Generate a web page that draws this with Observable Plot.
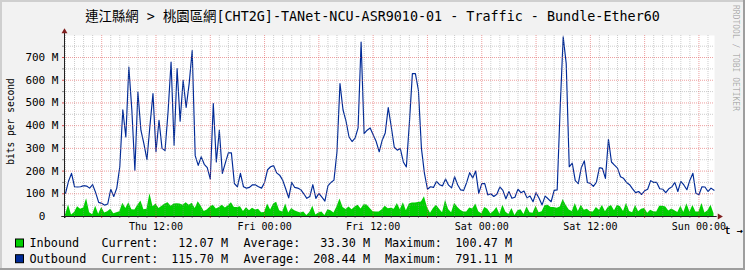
<!DOCTYPE html>
<html><head><meta charset="utf-8">
<script src="https://cdn.jsdelivr.net/npm/d3@7"></script>
<script src="https://cdn.jsdelivr.net/npm/@observablehq/plot@0.6"></script>
<style>
html,body{margin:0;padding:0;background:#f2f2f2;}
#chart{position:relative;width:745px;height:270px;background:#f2f2f2;overflow:hidden;
  box-shadow: inset -2px -2px 0 #9e9e9e, inset 2px 2px 0 #cfcfcf;}
#chart svg{position:absolute;left:0;top:0;}
</style>
</head><body>
<div id="chart"></div>
<script>
// ---- data (values in M bits/s), 20-minute samples starting Thu 02:00 ----
const startHour = 2;        // hours since Thu 00:00
const stepHours = 1 / 3;    // 20 minutes
const outbound = [
102,155,190,131,130,131,136,134,125,140,
105,62,58,50,55,120,88,125,219,470,
350,658,468,204,548,380,320,250,400,541,
285,424,300,290,460,680,314,651,420,600,
480,585,731,268,225,263,230,215,165,497,
240,380,190,236,280,280,145,131,190,131,
125,128,140,139,131,125,150,206,219,224,
192,182,160,122,82,150,128,125,118,100,
80,88,140,80,102,85,68,135,150,160,
285,585,470,420,350,330,345,390,768,365,
380,390,360,330,285,336,368,480,395,305,
292,299,240,218,410,629,629,556,300,190,
120,131,128,155,140,135,165,138,126,175,
140,117,115,150,193,170,200,102,145,145,
95,100,88,98,130,115,78,110,80,85,
120,105,112,82,90,65,105,80,51,90,
78,65,115,117,480,791.11,673,219,235,158,
145,215,245,150,146,133,150,215,212,168,
340,240,226,213,175,168,150,140,122,105,
110,97,113,120,158,150,150,122,120,105,
122,130,150,110,155,139,118,160,190,102,
96,131,130,110,125,115.70
];
const inbound = [
7,51,7,18,43,32,37,78,16,8,
45,10,40,15,21,32,12,17,21,58,
35,60,30,29,50,68,30,32,100.47,43,
55,35,45,55,60,45,55,56,55,50,
60,50,58,35,65,45,22,29,42,50,
33,40,50,37,47,60,40,40,43,22,
38,25,36,29,32,16,18,55,29,55,
63,25,20,55,15,35,25,20,15,20,
4,18,45,7,15,20,4,30,25,15,
42,77,40,31,42,30,42,50,33,52,
51,35,21,20,20,30,45,34,36,32,
57,30,60,25,55,59,59,62,64,87,
40,14,35,50,32,17,72,31,16,58,
41,28,20,20,37,33,55,21,12,40,
32,12,22,40,10,50,19,9,35,4,
25,30,9,42,16,14,45,17,21,48,
50,40,40,36,42,75,48,29,22,57,
22,50,27,32,21,20,40,28,48,21,
41,48,25,50,43,22,58,22,16,48,
21,32,35,14,28,21,20,45,45,42,
24,33,25,18,45,18,56,20,48,20,
20,57,15,25,50,12.07
];
const xTickHours  = [12, 24, 36, 48, 60, 72];
const xTickLabels = ["Thu 12:00", "Fri 00:00", "Fri 12:00", "Sat 00:00", "Sat 12:00", "Sun 00:00"];
const yTicks = [0, 100, 200, 300, 400, 500, 600, 700];
const seriesNames = ["Inbound", "Outbound"];
const seriesColors = ["#00CF00", "#002A97"];
const statCurrent = [12.07, 115.70];
const statAverage = [33.30, 208.44];
const statMaximum = [100.47, 791.11];
const titleText = "連江縣網 > 桃園區網[CHT2G]-TANet-NCU-ASR9010-01 - Traffic - Bundle-Ether60";
const yLabel = "bits per second";
const watermark = "RRDTOOL / TOBI OETIKER";

// ---- derived tables ----
const rows = outbound.map((v, i) => ({t: startHour + i * stepHours, out: v, inb: inbound[i]}));
const xDomain = [1.89, 73.72];
const yMax = 797;
const allHours = d3.range(2, 74);
const majorHours = allHours.filter(h => h % 6 === 0);
const minorHours = allHours.filter(h => h % 6 !== 0);
const yMinor = d3.range(50, yMax, 100);

const font = "'DejaVu Sans Mono', 'Noto Sans CJK TC', monospace";

const chart = Plot.plot({
  width: 745, height: 236,
  marginLeft: 64, marginRight: 31, marginTop: 35, marginBottom: 20,
  style: {background: "transparent", color: "#000", fontFamily: font, overflow: "visible"},
  x: {type: "linear", domain: xDomain},
  y: {domain: [0, yMax]},
  marks: [
    Plot.frame({fill: "white", stroke: null}),
    Plot.areaY(rows, {x: "t", y: "inb", fill: seriesColors[0]}),
    Plot.lineY(rows, {x: "t", y: "out", stroke: seriesColors[1], strokeWidth: 1.15}),
    // grid (rrdtool draws it over the data)
    Plot.ruleX(minorHours, {stroke: "#8f8f8f", strokeOpacity: 0.45, strokeDasharray: "1,1"}),
    Plot.ruleY(yMinor, {stroke: "#8f8f8f", strokeOpacity: 0.45, strokeDasharray: "1,1"}),
    Plot.ruleX(majorHours, {stroke: "#de4f4f", strokeOpacity: 0.55, strokeDasharray: "1,1"}),
    Plot.ruleY(yTicks.slice(1), {stroke: "#de4f4f", strokeOpacity: 0.55, strokeDasharray: "1,1"}),
    // axis ticks
    Plot.axisX(minorHours, {anchor: "bottom", tickSize: 2, stroke: "#8f8f8f", tickFormat: () => ""}),
    Plot.axisX(majorHours, {anchor: "bottom", tickSize: 2, stroke: "#de4f4f", tickFormat: () => ""}),
    Plot.axisY(yMinor, {anchor: "left", tickSize: 2, stroke: "#8f8f8f", tickFormat: () => ""}),
    Plot.axisY(yTicks, {anchor: "left", tickSize: 2, stroke: "#de4f4f", tickFormat: () => ""}),
    // axis labels
    Plot.axisX(xTickHours, {anchor: "bottom", tickSize: 0, tickPadding: 6, fontSize: 10,
      tickFormat: d => xTickLabels[xTickHours.indexOf(d)], label: null}),
    Plot.axisY(yTicks, {anchor: "left", tickSize: 0, tickPadding: 6, fontSize: 11,
      tickFormat: d => d === 0 ? "0\u00a0\u00a0" : d + " M", label: null}),
    Plot.text([yLabel], {frameAnchor: "left", textAnchor: "middle", lineAnchor: "middle",
      rotate: -90, dx: -54, dy: -4.5, fontSize: 9.6, fill: "#000"}),
    // axis lines with arrows
    Plot.ruleY([0], {x1: xDomain[0] - 0.3, x2: xDomain[1] + 0.3, stroke: "#1f1f1f"}),
    Plot.ruleX([xDomain[0]], {y1: -9, y2: yMax + 16, stroke: "#1f1f1f"}),
    Plot.dot([0], {x: xDomain[1] + 0.55, y: 0, symbol: "triangle", rotate: 90, r: 2.2, fill: "#801f1f", stroke: null}),
    Plot.dot([0], {x: xDomain[0], y: yMax + 17, symbol: "triangle", r: 2.2, fill: "#801f1f", stroke: null})
  ]
});

const root = document.getElementById("chart");
root.appendChild(chart);

// ---- title, watermark, legend ----
const ov = d3.create("svg").attr("width", 745).attr("height", 270)
  .style("font-family", font).style("pointer-events", "none");
ov.append("text").attr("x", 372.5).attr("y", 21).attr("text-anchor", "middle")
  .attr("font-size", 13.4).attr("fill", "#000").text(titleText);
ov.append("text").attr("transform", "translate(733,5) rotate(90)")
  .attr("font-size", 8).attr("fill", "#000").attr("fill-opacity", 0.3).text(watermark);

const fmt = d3.format(".2f");
const rowBase = [247, 262.7];
seriesNames.forEach((name, r) => {
  const y = rowBase[r];
  ov.append("rect").attr("x", 15.5).attr("y", y - 8).attr("width", 8).attr("height", 8)
    .attr("fill", seriesColors[r]).attr("stroke", "#000").attr("stroke-width", 1);
  const g = ov.append("g").attr("font-size", 11.8).attr("fill", "#000");
  g.append("text").attr("x", 29.5).attr("y", y).text(name);
  g.append("text").attr("x", 101.5).attr("y", y).text("Current:");
  g.append("text").attr("x", 228).attr("y", y).attr("text-anchor", "end").text(fmt(statCurrent[r]) + " M");
  g.append("text").attr("x", 243.5).attr("y", y).text("Average:");
  g.append("text").attr("x", 370).attr("y", y).attr("text-anchor", "end").text(fmt(statAverage[r]) + " M");
  g.append("text").attr("x", 385).attr("y", y).text("Maximum:");
  g.append("text").attr("x", 512).attr("y", y).attr("text-anchor", "end").text(fmt(statMaximum[r]) + " M");
});
root.appendChild(ov.node());
</script>
</body></html>
